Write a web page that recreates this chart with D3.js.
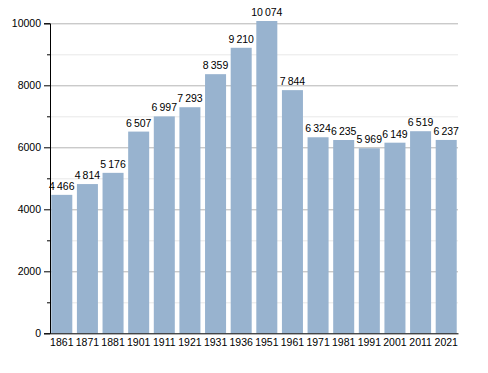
<!DOCTYPE html>
<html lang='en'>
<head>
<meta charset='utf-8'/>
<title>Population</title>
<script src='https://d3js.org/d3.v7.min.js'></script>
<style>
  body { margin: 0; background: #fff; }
  text { font-family: 'Liberation Sans', Arial, sans-serif; font-size: 10.5px; fill: #000; }
</style>
</head>
<body>
<script>
'use strict'
// census years and population
const years = ['1861', '1871', '1881', '1901', '1911', '1921', '1931', '1936', '1951', '1961', '1971', '1981', '1991', '2001', '2011', '2021']
const population = [4466, 4814, 5176, 6507, 6997, 7293, 8359, 9210, 10074, 7844, 6324, 6235, 5969, 6149, 6519, 6237]
const majorTicks = [0, 2000, 4000, 6000, 8000, 10000]
const minorTicks = [1000, 3000, 5000, 7000, 9000]

const width = 488
const height = 373
const margin = {top: 23.3, right: 30, bottom: 39.7, left: 50}

const svg = d3.select('body').append('svg')
  .attr('width', width)
  .attr('height', height)

const x = d3.scaleBand()
  .domain(years)
  .range([margin.left, width - margin.right])
  .paddingInner(0.18)
  .paddingOuter(0.05)

const y = d3.scaleLinear()
  .domain([0, 10000])
  .range([height - margin.bottom, margin.top])

// grid lines
svg.append('g')
  .selectAll('line')
  .data(minorTicks)
  .join('line')
    .attr('x1', margin.left).attr('x2', width - margin.right)
    .attr('y1', d => y(d) + 0.5).attr('y2', d => y(d) + 0.5)
    .attr('stroke', '#e8e8e8')

svg.append('g')
  .selectAll('line')
  .data(majorTicks.slice(1))
  .join('line')
    .attr('x1', margin.left).attr('x2', width - margin.right)
    .attr('y1', d => y(d) + 0.5).attr('y2', d => y(d) + 0.5)
    .attr('stroke', '#b4b4b4')

// bars
svg.append('g')
  .selectAll('rect')
  .data(population)
  .join('rect')
    .attr('x', (d, i) => x(years[i]))
    .attr('y', d => y(d))
    .attr('width', x.bandwidth())
    .attr('height', d => y(0) - y(d))
    .attr('fill', '#98b3cf')

// value labels, thin space as thousands separator
const fmt = d3.formatLocale({decimal: '.', thousands: '\u2009', grouping: [3], currency: ['', '']}).format(',')
svg.append('g')
  .selectAll('text')
  .data(population)
  .join('text')
    .attr('x', (d, i) => x(years[i]) + x.bandwidth() / 2)
    .attr('y', d => y(d) - 5)
    .attr('text-anchor', 'middle')
    .text(d => fmt(d))

// y axis
const yAxis = svg.append('g')
  .attr('transform', `translate(${margin.left},0)`)
  .call(d3.axisLeft(y).tickValues(majorTicks).tickFormat(d3.format('d')).tickSize(6).tickPadding(3))
yAxis.select('.domain').attr('stroke', '#000')
yAxis.selectAll('.tick text').style('font-size', '10.5px').attr('fill', '#000')
yAxis.selectAll('.tick line').attr('stroke', '#000')

svg.append('g')
  .attr('transform', `translate(${margin.left},0)`)
  .selectAll('line')
  .data(minorTicks)
  .join('line')
    .attr('x1', -3).attr('x2', 0)
    .attr('y1', d => y(d) + 0.5).attr('y2', d => y(d) + 0.5)
    .attr('stroke', '#000')

// x axis
const xAxis = svg.append('g')
  .attr('transform', `translate(0,${y(0)})`)
  .call(d3.axisBottom(x).tickSize(0).tickPadding(5).tickSizeOuter(0))
xAxis.select('.domain').attr('stroke', '#000')
xAxis.selectAll('.tick text').style('font-size', '10.5px').attr('fill', '#000')
</script>
</body>
</html>
